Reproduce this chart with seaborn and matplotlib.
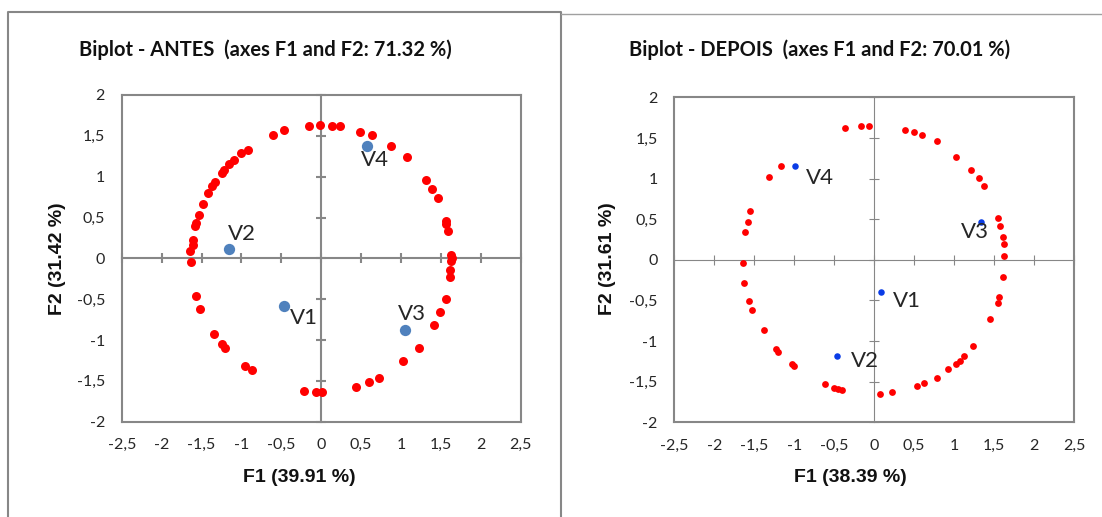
import numpy as np
import pandas as pd
import matplotlib
matplotlib.use("Agg")
import matplotlib.pyplot as plt
import seaborn as sns
from matplotlib.lines import Line2D

# ANTES - observations (red) on F1 / F2
antes_obs_f1 = [-0.15, -0.01, 0.13, 0.23, 0.49, 0.64, 0.88, 1.07, 1.31, 1.39, 1.46,
                1.56, 1.57, 1.59, 1.63, 1.64, 1.63, 1.61, 1.61, 1.56, 1.49, 1.41,
                1.22, 1.03, 0.72, 0.60, 0.44, 0.01, -0.07, -0.22, -0.87, -0.96,
                -1.21, -1.24, -1.34, -1.52, -1.57, -1.63, -1.64, -1.61, -1.61,
                -1.58, -1.57, -1.53, -1.48, -1.42, -1.37, -1.33, -1.24, -1.22,
                -1.15, -1.09, -1.00, -0.92, -0.61, -0.46]
antes_obs_f2 = [1.62, 1.63, 1.62, 1.62, 1.55, 1.51, 1.37, 1.24, 0.96, 0.85, 0.74,
                0.46, 0.42, 0.34, 0.04, 0.00, -0.03, -0.14, -0.23, -0.50, -0.66,
                -0.82, -1.10, -1.26, -1.46, -1.51, -1.57, -1.64, -1.64, -1.62,
                -1.37, -1.32, -1.10, -1.05, -0.93, -0.62, -0.46, -0.04, 0.09,
                0.16, 0.23, 0.39, 0.43, 0.53, 0.66, 0.80, 0.88, 0.93, 1.05, 1.08,
                1.16, 1.20, 1.29, 1.33, 1.51, 1.57]
# ANTES - variables (blue)
antes_var_names = ["V1", "V2", "V3", "V4"]
antes_var_f1 = [-0.47, -1.15, 1.05, 0.57]
antes_var_f2 = [-0.58, 0.11, -0.88, 1.37]

# DEPOIS - observations (red)
depois_obs_f1 = [-0.36, -0.17, -0.07, 0.38, 0.50, 0.60, 0.78, 1.03, 1.21, 1.31, 1.37,
                 1.55, 1.58, 1.61, 1.63, 1.63, 1.61, 1.56, 1.55, 1.45, 1.24, 1.12,
                 1.08, 1.02, 0.93, 0.78, 0.62, 0.53, 0.22, 0.07, -0.40, -0.45,
                 -0.50, -0.62, -1.00, -1.03, -1.20, -1.23, -1.38, -1.53, -1.56,
                 -1.63, -1.64, -1.61, -1.58, -1.55, -1.31, -1.16]
depois_obs_f2 = [1.62, 1.65, 1.65, 1.60, 1.57, 1.54, 1.46, 1.27, 1.10, 1.01, 0.91,
                 0.52, 0.42, 0.28, 0.20, 0.05, -0.21, -0.46, -0.53, -0.73, -1.06,
                 -1.19, -1.24, -1.28, -1.35, -1.45, -1.52, -1.55, -1.63, -1.65,
                 -1.60, -1.59, -1.58, -1.53, -1.31, -1.28, -1.14, -1.10, -0.87,
                 -0.62, -0.51, -0.28, -0.04, 0.34, 0.47, 0.60, 1.02, 1.16]
# DEPOIS - variables (blue)
depois_var_names = ["V1", "V2", "V3", "V4"]
depois_var_f1 = [0.08, -0.47, 1.34, -0.99]
depois_var_f2 = [-0.40, -1.18, 0.46, 1.15]

titles = ["Biplot - ANTES  (axes F1 and F2: 71.32 %)",
          "Biplot - DEPOIS  (axes F1 and F2: 70.01 %)"]
xlabels = ["F1 (39.91 %)", "F1 (38.39 %)"]
ylabels = ["F2 (31.42 %)", "F2 (31.61 %)"]

x_ticks = [-2.5, -2, -1.5, -1, -0.5, 0, 0.5, 1, 1.5, 2, 2.5]
x_tick_labels = ["-2,5", "-2", "-1,5", "-1", "-0,5", "0", "0,5", "1", "1,5", "2", "2,5"]
y_ticks = [-2, -1.5, -1, -0.5, 0, 0.5, 1, 1.5, 2]
y_tick_labels = ["-2", "-1,5", "-1", "-0,5", "0", "0,5", "1", "1,5", "2"]

sns.set_style("white")
plt.rcParams["font.family"] = ["Lato", "DejaVu Sans"]

GRAY = "#878787"
W, H = 1102, 517

fig = plt.figure(figsize=(W / 100, H / 100), dpi=100)

# outer chart frames (excel style)
fig.add_artist(Line2D([8 / W, 8 / W, 561 / W, 561 / W], [0, 1 - 12 / H, 1 - 12 / H, 0],
                      transform=fig.transFigure, color=GRAY, lw=1.5))
fig.add_artist(Line2D([561 / W, 1], [1 - 14 / H, 1 - 14 / H],
                      transform=fig.transFigure, color="#a0a0a0", lw=1.0))

panels = [
    dict(rect=[121.7 / W, 1 - 421.7 / H, 399 / W, 326.7 / H],
         obs=(antes_obs_f1, antes_obs_f2), var=(antes_var_names, antes_var_f1, antes_var_f2),
         red_s=42, blue_s=66, blue="#4F81BD", zero_lw=1.5,
         offsets=[(14.4, -8.6), (8.9, 11), (4.8, 11.5), (6.2, -10)],
         title_x=265.5, xlab_x=299, ylab_x=57),
    dict(rect=[674.3 / W, 1 - 422.3 / H, 399.7 / W, 325 / H],
         obs=(depois_obs_f1, depois_obs_f2), var=(depois_var_names, depois_var_f1, depois_var_f2),
         red_s=24, blue_s=22, blue="#0A3CE6", zero_lw=0.8,
         offsets=[(18.7, -6.5), (20.4, -4.1), (-4.3, -7), (18, -8.6)],
         title_x=819.5, xlab_x=850, ylab_x=608),
]

for i, p in enumerate(panels):
    ax = fig.add_axes(p["rect"])
    obs = pd.DataFrame({"F1": p["obs"][0], "F2": p["obs"][1]})
    var = pd.DataFrame({"name": p["var"][0], "F1": p["var"][1], "F2": p["var"][2]})

    sns.scatterplot(data=obs, x="F1", y="F2", color="#FF0000", s=p["red_s"],
                    linewidth=0, ax=ax, zorder=3)
    sns.scatterplot(data=var, x="F1", y="F2", color=p["blue"], s=p["blue_s"],
                    linewidth=0, ax=ax, zorder=4)
    for (_, row), off in zip(var.iterrows(), p["offsets"]):
        ax.annotate(row["name"], (row["F1"], row["F2"]), xytext=off,
                    textcoords="offset points", ha="center", va="center",
                    fontsize=16, color="#262626", zorder=5)

    ax.set_xlim(-2.5, 2.5)
    ax.set_ylim(-2, 2)
    ax.set_xticks(x_ticks)
    ax.set_xticklabels(x_tick_labels)
    ax.set_yticks(y_ticks)
    ax.set_yticklabels(y_tick_labels)
    ax.tick_params(length=0, labelsize=11.5, labelcolor="#262626", pad=12)
    ax.set_xlabel("")
    ax.set_ylabel("")
    for sp in ax.spines.values():
        sp.set_color(GRAY)
        sp.set_linewidth(1.5)

    # zero axes with crossing tick marks
    secx = ax.secondary_xaxis(0.5)
    secx.set_xticks(x_ticks)
    secx.tick_params(direction="inout", length=7, width=p["zero_lw"], color=GRAY,
                     labeltop=False, labelbottom=False)
    for sp in secx.spines.values():
        sp.set_color(GRAY)
        sp.set_linewidth(p["zero_lw"])
    secy = ax.secondary_yaxis(0.5)
    secy.set_yticks(y_ticks)
    secy.tick_params(direction="inout", length=7, width=p["zero_lw"], color=GRAY,
                     labelleft=False, labelright=False)
    for sp in secy.spines.values():
        sp.set_color(GRAY)
        sp.set_linewidth(p["zero_lw"])

    fig.text(p["title_x"] / W, 1 - 50 / H, titles[i], ha="center", va="center",
             fontsize=14.5, fontweight="bold", color="#111111")
    fig.text(p["xlab_x"] / W, 1 - 478 / H, xlabels[i], ha="center", va="center",
             fontsize=14, fontweight="bold", family="Liberation Sans", color="#111111")
    fig.text(p["ylab_x"] / W, 1 - 259 / H, ylabels[i], ha="center", va="center",
             rotation=90, fontsize=14, fontweight="bold", family="Liberation Sans",
             color="#111111")

fig.savefig("out.png", dpi=100)
